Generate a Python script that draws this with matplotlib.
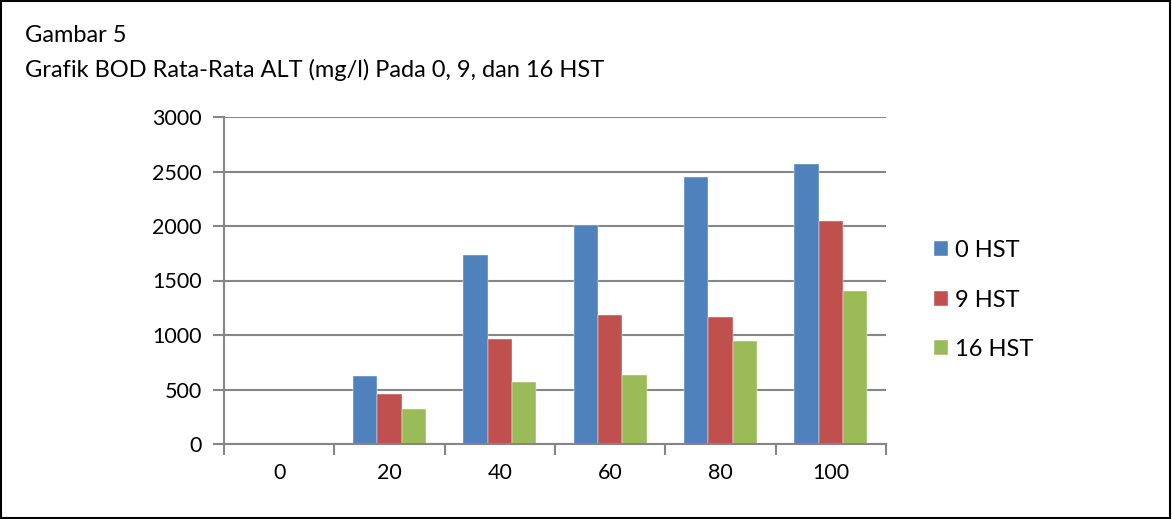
import numpy as np
import matplotlib.pyplot as plt
from matplotlib.patches import Rectangle

# data
kategori = ["0", "20", "40", "60", "80", "100"]
hst_0 = [0, 622, 1735, 2009, 2451, 2570]
hst_9 = [0, 463, 960, 1186, 1162, 2043]
hst_16 = [0, 317, 570, 631, 948, 1405]
seri_label = ["0 HST", "9 HST", "16 HST"]
warna = ["#4F81BD", "#C0504D", "#9BBB59"]
y_ticks = [0, 500, 1000, 1500, 2000, 2500, 3000]

plt.rcParams['font.family'] = ['Lato', 'DejaVu Sans']

fig = plt.figure(figsize=(11.72, 5.19), dpi=100)
ax = fig.add_axes([224 / 1172, 75 / 519, 662 / 1172, 327 / 519])

x = np.arange(len(kategori))
lebar = 0.22
for i, (vals, lab, c) in enumerate(zip([hst_0, hst_9, hst_16], seri_label, warna)):
    ax.bar(x + (i - 1) * lebar, vals, lebar, color=c, label=lab, zorder=3,
           edgecolor="white", linewidth=0.3)

grid_c = "#868686"
ax.set_xlim(-0.5, len(kategori) - 0.5)
ax.set_ylim(0, 3000)
ax.set_yticks(y_ticks)
ax.set_yticklabels([str(v) for v in y_ticks], fontsize=15.5)
ax.yaxis.grid(True, color=grid_c, linewidth=1.5, zorder=0)
ax.set_xticks(np.arange(-0.5, len(kategori)), minor=False)
ax.set_xticklabels([])
ax.set_xticks(x, minor=True)
ax.set_xticklabels(kategori, minor=True, fontsize=15.5)
ax.tick_params(axis="x", which="major", length=8, width=1.5, color=grid_c, direction="out")
ax.tick_params(axis="x", which="minor", length=0, pad=14)
ax.tick_params(axis="y", length=8, width=1.5, color=grid_c, pad=8)

for s in ["top", "right"]:
    ax.spines[s].set_visible(False)
for s in ["left", "bottom"]:
    ax.spines[s].set_color(grid_c)
    ax.spines[s].set_linewidth(1.5)
    ax.spines[s].set_zorder(4)

leg = ax.legend(loc="center left", bbox_to_anchor=(1.04, 0.44), frameon=False,
                fontsize=17, handlelength=0.6, handleheight=0.6,
                handletextpad=0.3, labelspacing=1.2)

fig.text(25 / 1172, 1 - 36 / 519, "Gambar 5", fontsize=17, va="center")
fig.text(25 / 1172, 1 - 70 / 519, "Grafik BOD Rata-Rata ALT (mg/l) Pada 0, 9, dan 16 HST",
         fontsize=17, va="center")

fig.patches.append(Rectangle((0.001, 0.002), 0.997, 0.996, transform=fig.transFigure,
                             fill=False, edgecolor="black", linewidth=1.5))

fig.savefig("out.png", dpi=100)
